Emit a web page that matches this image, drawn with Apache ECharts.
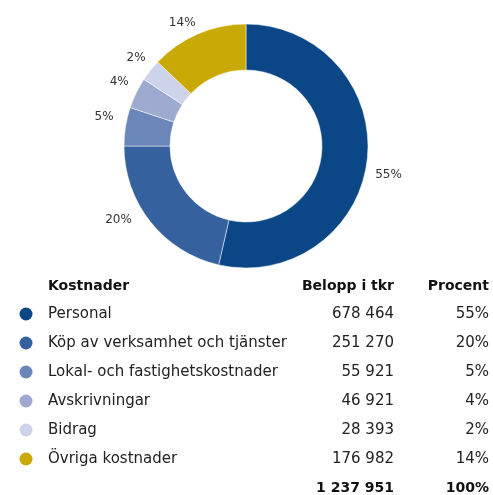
<!DOCTYPE html>
<html>
<head>
<meta charset="utf-8">
<script src="https://cdn.jsdelivr.net/npm/echarts@6/dist/echarts.min.js"></script>
<style>
  html, body { margin: 0; padding: 0; background: #fff; }
  #chart { width: 493px; height: 495px; }
</style>
</head>
<body>
<div id="chart"></div>
<script>
// data
const categories = ["Personal", "Köp av verksamhet och tjänster", "Lokal- och fastighetskostnader", "Avskrivningar", "Bidrag", "Övriga kostnader"];
const amounts = [678464, 251270, 55921, 46921, 28393, 176982];
const percents = [55, 20, 5, 4, 2, 14];
// slice sizes as drawn in the picture (share of the ring, %)
const sliceShares = [53.6, 21.4, 5.1, 4.1, 2.9, 12.9];
const totalAmount = 1237951;
const totalPercent = 100;
const colors = ["#0b4786", "#35629f", "#6b86b9", "#9eaad0", "#cdd3e8", "#c9a905"];

const FONT = "DejaVu Sans";
const fmt = n => String(n).replace(/\B(?=(\d{3})+(?!\d))/g, " ");
// small label nudges so the percent labels sit where the original has them
const labelNudge = [[-3, 14], [-9, -6], [-1, -9], [3, -9], [5, -9], [5, -5]];

const chart = echarts.init(document.getElementById("chart"));

// table below the donut
const rowY0 = 314, rowStep = 29;
const colName = 48, colAmount = 394, colPct = 489;
const table = [];
const head = (x, text, align) => table.push({
  type: "text", x: x, y: 286,
  style: { text: text, font: "bold 14px " + FONT, fill: "#111", align: align, verticalAlign: "middle" }
});
head(colName, "Kostnader", "left");
head(colAmount, "Belopp i tkr", "right");
head(colPct, "Procent", "right");
categories.forEach((c, i) => {
  const y = rowY0 + i * rowStep;
  table.push({ type: "circle", shape: { cx: 26, cy: y, r: 6.5 }, style: { fill: colors[i] } });
  const cell = (x, text, align) => table.push({
    type: "text", x: x, y: y,
    style: { text: text, font: "15px " + FONT, fill: "#222", align: align, verticalAlign: "middle" }
  });
  cell(colName, c, "left");
  cell(colAmount, fmt(amounts[i]), "right");
  cell(colPct, percents[i] + "%", "right");
});
const totalY = rowY0 + categories.length * rowStep;
[[colAmount, fmt(totalAmount)], [colPct, totalPercent + "%"]].forEach(([x, t]) => table.push({
  type: "text", x: x, y: totalY,
  style: { text: t, font: "bold 14px " + FONT, fill: "#111", align: "right", verticalAlign: "middle" }
}));

chart.setOption({
  animation: false,
  color: colors,
  series: [{
    type: "pie",
    center: [246, 146],
    radius: [76, 122],
    startAngle: 90,
    clockwise: true,
    label: {
      show: true,
      position: "outside",
      formatter: p => percents[p.dataIndex] + "%",
      fontFamily: FONT,
      fontSize: 12,
      color: "#333"
    },
    labelLine: { show: false, length: 6, length2: 0 },
    itemStyle: { borderColor: "#fff", borderWidth: 0.5 },
    emphasis: { disabled: true },
    data: categories.map((c, i) => ({
      name: c,
      value: sliceShares[i],
      label: { offset: labelNudge[i] }
    }))
  }],
  graphic: table
});
</script>
</body>
</html>
